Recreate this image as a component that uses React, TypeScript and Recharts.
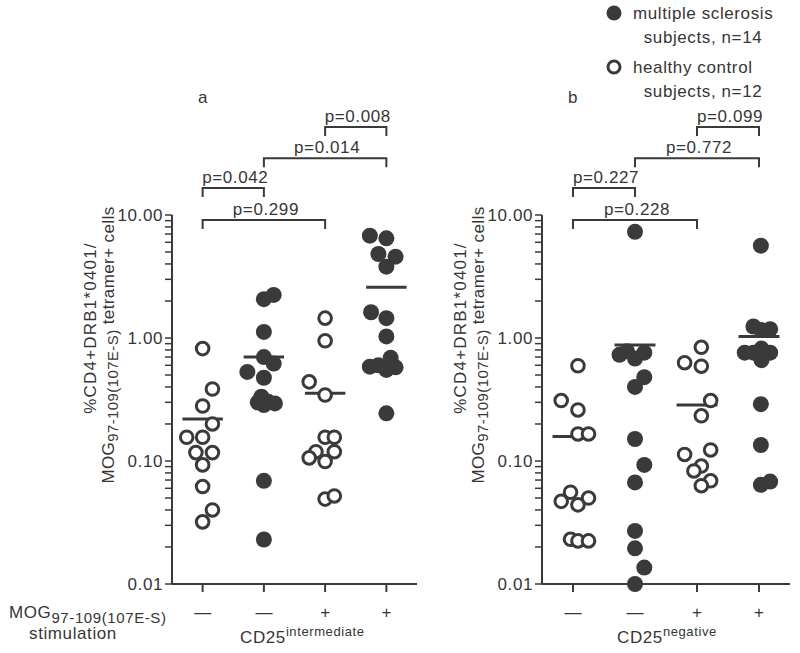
import React from 'react';
import { ScatterChart, Scatter, XAxis, YAxis, ReferenceLine } from 'recharts';

// ---------- data ----------
const groupTickLabels = ['—', '—', '+', '+'];
const decadeTicks = [0.01, 0.1, 1, 10];

// Panel a: CD25 intermediate
const aHealthyUnstim = [0.82, 0.385, 0.28, 0.2, 0.156, 0.156, 0.117, 0.117, 0.093, 0.062, 0.04, 0.032];
const aHealthyUnstimJitter = [0, 0.16, 0, 0.16, -0.26, 0, -0.11, 0.16, 0, 0, 0.16, 0];
const aMSUnstim = [2.07, 2.24, 1.12, 0.7, 0.62, 0.53, 0.475, 0.333, 0.303, 0.294, 0.285, 0.3, 0.069, 0.023];
const aMSUnstimJitter = [0, 0.16, 0, 0, 0.16, -0.27, 0, -0.04, 0.07, 0.18, 0, -0.1, 0, 0];
const aHealthyStim = [1.45, 0.95, 0.44, 0.344, 0.156, 0.156, 0.119, 0.119, 0.106, 0.099, 0.049, 0.052];
const aHealthyStimJitter = [0, 0, -0.26, 0, 0, 0.15, -0.15, 0.15, -0.26, 0, 0, 0.15];
const aMSStim = [6.79, 6.46, 4.82, 4.58, 3.8, 1.62, 1.45, 1.03, 0.69, 0.585, 0.6, 0.55, 0.578, 0.244];
const aMSStimJitter = [-0.27, 0, -0.13, 0.15, 0, -0.25, 0, 0, 0.07, -0.27, -0.13, 0, 0.15, 0];
const aMeans = [0.22, 0.7, 0.355, 2.58];
const aPValues = ['p=0.008', 'p=0.014', 'p=0.042', 'p=0.299'];

// Panel b: CD25 negative
const bHealthyUnstim = [0.595, 0.31, 0.26, 0.166, 0.166, 0.0557, 0.047, 0.05, 0.044, 0.0231, 0.0224, 0.0224];
const bHealthyUnstimJitter = [0.08, -0.19, 0.08, 0.08, 0.25, -0.04, -0.19, 0.25, 0.08, -0.04, 0.08, 0.25];
const bMSUnstim = [7.3, 0.73, 0.78, 0.68, 0.76, 0.48, 0.4, 0.151, 0.093, 0.067, 0.027, 0.0195, 0.0136, 0.01];
const bMSUnstimJitter = [0, -0.25, -0.13, 0, 0.15, 0.15, 0, 0, 0.15, 0, 0, 0, 0.15, 0];
const bHealthyStim = [0.84, 0.63, 0.59, 0.31, 0.233, 0.113, 0.123, 0.091, 0.083, 0.069, 0.063];
const bHealthyStimJitter = [0.07, -0.2, 0.07, 0.22, 0.07, -0.2, 0.22, 0.07, -0.05, 0.22, 0.07];
const bMSStim = [5.63, 1.24, 1.18, 1.16, 0.76, 0.76, 0.76, 0.66, 0.82, 0.29, 0.135, 0.064, 0.068];
const bMSStimJitter = [0.03, -0.09, 0.18, 0.04, -0.23, -0.09, 0.18, 0.04, 0.04, 0.03, 0.03, 0.03, 0.18];
const bMeans = [0.158, 0.877, 0.285, 1.03];
const bPValues = ['p=0.099', 'p=0.772', 'p=0.227', 'p=0.228'];

// bracket spans (group indices) and levels (top to bottom)
const bracketSpans: [number, number][] = [[2, 3], [1, 3], [0, 1], [0, 2]];
const bracketLevels = [52, 29, 16.6, 9.1];

// ---------- style ----------
const INK = '#3a3a3a';
const TEXT = '#363636';
const FONT = '"Liberation Sans", Arial, sans-serif';
const FS = 17;
const LS = 0.6;

const minorTicks: number[] = [];
[0.01, 0.1, 1].forEach((d) => {
  for (let k = 1; k <= 9; k++) minorTicks.push(Number((k * d).toPrecision(3)));
});
minorTicks.push(10);

const toPoints = (vals: number[], jit: number[], g: number) =>
  vals.map((v, i) => ({ x: g + 0.5 + jit[i], y: v }));

const FilledDot = (p: any) => <circle cx={p.cx} cy={p.cy} r={8} fill={INK} />;
const OpenDot = (p: any) => (
  <circle cx={p.cx} cy={p.cy} r={6.3} fill="#fff" stroke={INK} strokeWidth={3} />
);

const YTick = (p: any) => {
  const v = p.payload.value;
  if (!decadeTicks.some((d) => Math.abs(d - v) < 1e-9)) return <g />;
  return (
    <text x={p.x} y={p.y} dy={6} textAnchor="end" fontSize={FS} fill={TEXT}
      fontFamily={FONT} letterSpacing={LS}>
      {v.toFixed(2)}
    </text>
  );
};

const XTick = (p: any) => {
  const idx = Math.round(p.payload.value - 0.5);
  return (
    <text x={p.x} y={p.y} dy={24} textAnchor="middle" fontSize={FS} fill={TEXT} fontFamily={FONT}>
      {groupTickLabels[idx]}
    </text>
  );
};

const bracketShape = (label: string) => (p: any) => {
  const { x1, x2, y1 } = p;
  return (
    <g>
      <path d={`M${x1},${y1 + 9} V${y1} H${x2} V${y1 + 9}`} fill="none" stroke={INK} strokeWidth={2} />
      <text x={(x1 + x2) / 2 + 2} y={y1 - 5} textAnchor="middle" fontSize={FS} fill={TEXT}
        fontFamily={FONT} letterSpacing={LS}>
        {label}
      </text>
    </g>
  );
};

type Group = { points: { x: number; y: number }[]; filled: boolean };

function Panel(props: {
  left: number; width: number; margin: any; groups: Group[]; means: number[]; pvals: string[];
}) {
  const { left, width, margin, groups, means, pvals } = props;
  return (
    <div style={{ position: 'absolute', left, top: 0 }}>
      <ScatterChart width={width} height={653} margin={margin}>
        <XAxis type="number" dataKey="x" domain={[0, 4]} ticks={[0.5, 1.5, 2.5, 3.5]}
          height={30} tickSize={8} interval={0}
          axisLine={{ stroke: INK, strokeWidth: 2 }} tickLine={{ stroke: INK, strokeWidth: 2 }}
          tick={XTick} />
        <YAxis type="number" dataKey="y" scale="log" domain={[0.01, 10]} ticks={minorTicks}
          width={60} tickSize={7} interval={0}
          axisLine={{ stroke: INK, strokeWidth: 2 }} tickLine={{ stroke: INK, strokeWidth: 1.5 }}
          tick={YTick} />
        {groups.map((g, i) => (
          <Scatter key={i} data={g.points} isAnimationActive={false}
            shape={g.filled ? FilledDot : OpenDot} />
        ))}
        {means.map((m, i) => (
          <ReferenceLine key={'m' + i} ifOverflow="visible"
            segment={[{ x: i + 0.5 - 0.33, y: m }, { x: i + 0.5 + 0.33, y: m }]}
            stroke={INK} strokeWidth={3} />
        ))}
        {bracketSpans.map(([a, b], i) => (
          <ReferenceLine key={'b' + i} ifOverflow="visible"
            segment={[{ x: a + 0.5, y: bracketLevels[i] }, { x: b + 0.5, y: bracketLevels[i] }]}
            shape={bracketShape(pvals[i])} />
        ))}
      </ScatterChart>
    </div>
  );
}

const YLabel = ({ x }: { x: number }) => (
  <g fontFamily={FONT} fontSize={FS} fill={TEXT}>
    <text transform={`translate(${x},328) rotate(-90)`} textAnchor="middle" letterSpacing={1.2}>
      %CD4+DRB1*0401/
    </text>
    <text transform={`translate(${x + 18},345) rotate(-90)`} textAnchor="middle" letterSpacing={0.4}>
      MOG<tspan dy={4} fontSize={15}>97-109(107E-S)</tspan>
      <tspan dy={-4}> tetramer+ cells</tspan>
    </text>
  </g>
);

export default function App() {
  const aGroups: Group[] = [
    { points: toPoints(aHealthyUnstim, aHealthyUnstimJitter, 0), filled: false },
    { points: toPoints(aMSUnstim, aMSUnstimJitter, 1), filled: true },
    { points: toPoints(aHealthyStim, aHealthyStimJitter, 2), filled: false },
    { points: toPoints(aMSStim, aMSStimJitter, 3), filled: true },
  ];
  const bGroups: Group[] = [
    { points: toPoints(bHealthyUnstim, bHealthyUnstimJitter, 0), filled: false },
    { points: toPoints(bMSUnstim, bMSUnstimJitter, 1), filled: true },
    { points: toPoints(bHealthyStim, bHealthyStimJitter, 2), filled: false },
    { points: toPoints(bMSStim, bMSStimJitter, 3), filled: true },
  ];
  return (
    <div style={{ position: 'absolute', left: 0, top: 0, width: 800, height: 653, background: '#fff' }}>
      <Panel left={0} width={440} margin={{ top: 215, right: 23, bottom: 39, left: 112 }}
        groups={aGroups} means={aMeans} pvals={aPValues} />
      <Panel left={440} width={360} margin={{ top: 215, right: 10, bottom: 39, left: 42 }}
        groups={bGroups} means={bMeans} pvals={bPValues} />
      <svg width={800} height={653} style={{ position: 'absolute', left: 0, top: 0, pointerEvents: 'none' }}>
        <g fontFamily={FONT} fill={TEXT} fontSize={FS} letterSpacing={LS}>
          {/* legend */}
          <circle cx={614} cy={13} r={7.5} fill={INK} />
          <text x={633} y={19}>multiple sclerosis</text>
          <text x={703} y={43} textAnchor="middle">subjects, n=14</text>
          <circle cx={614} cy={67} r={6} fill="#fff" stroke={INK} strokeWidth={3} />
          <text x={633} y={73}>healthy control</text>
          <text x={703} y={97} textAnchor="middle">subjects, n=12</text>
          {/* panel letters */}
          <text x={203} y={103} textAnchor="middle">a</text>
          <text x={573} y={103} textAnchor="middle">b</text>
          {/* stimulation label */}
          <text x={9} y={618}>
            MOG<tspan dy={5} fontSize={15}>97-109(107E-S)</tspan>
          </text>
          <text x={73} y={639} textAnchor="middle">stimulation</text>
          <text x={240} y={643}>
            CD25<tspan dy={-7} fontSize={13}>intermediate</tspan>
          </text>
          <text x={617} y={643}>
            CD25<tspan dy={-7} fontSize={13}>negative</tspan>
          </text>
        </g>
        <YLabel x={96} />
        <YLabel x={466} />
      </svg>
    </div>
  );
}
